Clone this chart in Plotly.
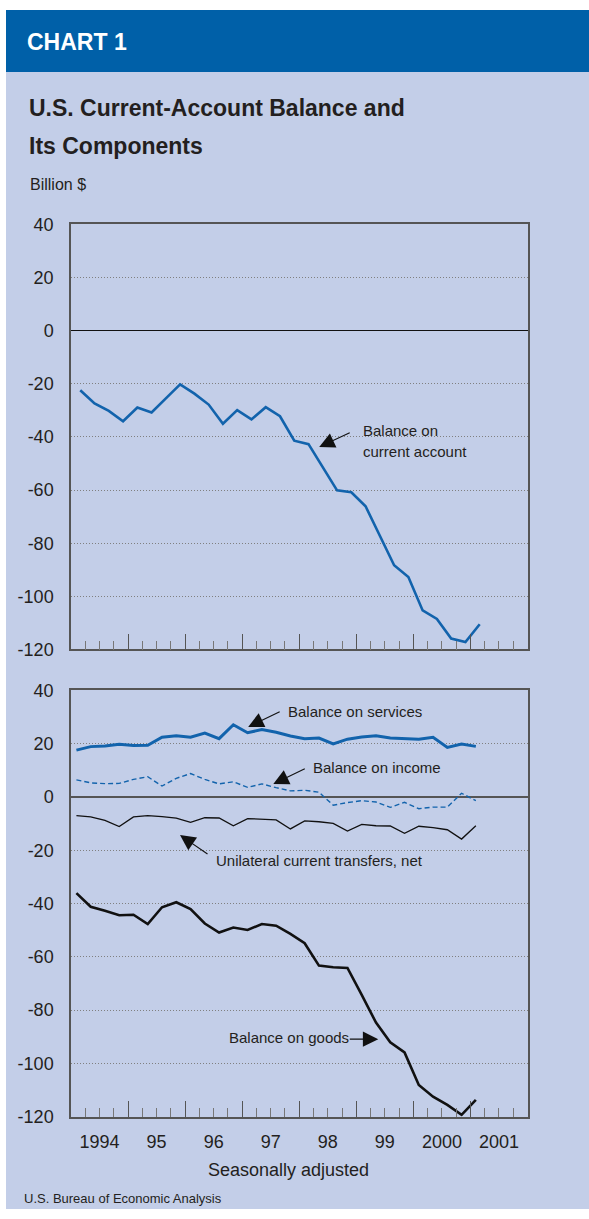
import plotly.graph_objects as go

# ---------------- data ----------------
quarters = ["1994Q1", "1994Q2", "1994Q3", "1994Q4",
            "1995Q1", "1995Q2", "1995Q3", "1995Q4",
            "1996Q1", "1996Q2", "1996Q3", "1996Q4",
            "1997Q1", "1997Q2", "1997Q3", "1997Q4",
            "1998Q1", "1998Q2", "1998Q3", "1998Q4",
            "1999Q1", "1999Q2", "1999Q3", "1999Q4",
            "2000Q1", "2000Q2", "2000Q3", "2000Q4",
            "2001Q1"]

current_account = [-22.4, -27.4, -30.2, -34.1, -28.9, -30.8, -25.5, -20.2,
                   -23.7, -27.8, -35.0, -29.9, -33.4, -28.8, -32.2, -41.4,
                   -42.7, -51.4, -60.1, -60.8, -66.1, -77.2, -88.3, -92.7,
                   -105.3, -108.5, -115.9, -117.2, -110.5]
services = [17.6, 18.9, 19.1, 19.8, 19.3, 19.4, 22.4, 23.0,
            22.4, 24.0, 21.9, 27.1, 24.1, 25.3, 24.3, 22.9,
            21.9, 22.1, 19.9, 21.7, 22.5, 23.0, 22.1, 22.0,
            21.7, 22.4, 18.6, 19.9, 19.0]
income = [6.4, 5.3, 5.0, 5.1, 6.6, 7.6, 4.1, 7.0,
          8.8, 6.6, 4.9, 5.7, 3.6, 4.9, 3.5, 2.3,
          2.5, 1.8, -3.1, -2.1, -1.4, -1.9, -3.9, -2.0,
          -4.4, -3.8, -3.8, 1.4, -1.4]
transfers = [-7.0, -7.5, -8.8, -11.1, -7.5, -7.0, -7.4, -7.9,
             -9.5, -7.8, -7.9, -10.8, -8.1, -8.4, -8.6, -12.0,
             -9.0, -9.3, -9.9, -12.8, -10.3, -10.8, -10.9, -13.6,
             -11.0, -11.5, -12.3, -15.8, -10.8]
goods = [-36.1, -41.2, -42.7, -44.4, -44.2, -47.7, -41.4, -39.5,
         -42.1, -47.5, -50.9, -49.0, -49.9, -47.7, -48.3, -51.4,
         -54.9, -63.3, -63.9, -64.2, -74.3, -84.7, -92.1, -95.9,
         -108.1, -112.5, -115.6, -119.3, -113.7]

year_labels = ["1994", "95", "96", "97", "98", "99", "2000", "2001"]
y_ticks = [40, 20, 0, -20, -40, -60, -80, -100, -120]

# ---------------- styling ----------------
W, H = 589, 1219
BLUE = "#1263AC"
HEADER = "#0060A8"
LAV = "#C3CEE8"
TXT = "#231F20"
FONT = "Liberation Sans, Arial, sans-serif"
V_OFF, V_SC = 10.0, 0.983   # compensation for the vertical placement seen in the capture


def px(x):
    return x / W


def py(y):
    yc = (y - V_OFF) / V_SC
    return min(1.0, max(0.0, 1 - yc / H))


def qpos(label, off):
    yr = int(label[:4])
    q = int(label[5])
    return (yr - 1994) * 4 + (q - 1) + off


x_top = [qpos(q, 0.65) for q in quarters]
x_bot = [qpos(q, 0.38) for q in quarters]

fig = go.Figure()
fig.add_trace(go.Scatter(x=x_top, y=current_account, mode="lines",
                         line=dict(color=BLUE, width=2.6), xaxis="x", yaxis="y"))
fig.add_trace(go.Scatter(x=x_bot, y=services, mode="lines",
                         line=dict(color=BLUE, width=3), xaxis="x2", yaxis="y2"))
fig.add_trace(go.Scatter(x=x_bot, y=income, mode="lines",
                         line=dict(color=BLUE, width=1.4, dash="5px,3px"), xaxis="x2", yaxis="y2"))
fig.add_trace(go.Scatter(x=x_bot, y=transfers, mode="lines",
                         line=dict(color="#111111", width=1.3), xaxis="x2", yaxis="y2"))
fig.add_trace(go.Scatter(x=x_bot, y=goods, mode="lines",
                         line=dict(color="#111111", width=2.6), xaxis="x2", yaxis="y2"))
# carrier trace for the year-label axis
fig.add_trace(go.Scatter(x=[0], y=[None], mode="lines", xaxis="x3", yaxis="y2",
                         hoverinfo="skip"))

major = list(range(4, 32, 4))
xcommon = dict(range=[0, 32], domain=[px(71), px(527.5)], showline=True, mirror=True,
               linecolor="#555555", linewidth=1.5, ticks="inside", tickvals=major,
               ticklen=16, tickwidth=1, tickcolor="#555555", showticklabels=False,
               showgrid=False, zeroline=False, fixedrange=True,
               minor=dict(ticks="inside", tickmode="linear", tick0=0, dtick=1,
                          ticklen=9, tickwidth=1, tickcolor="#777777"))
ycommon = dict(range=[-120, 40], tickvals=y_ticks, ticktext=[str(v) for v in y_ticks],
               showgrid=True, gridcolor="#808080", gridwidth=1, griddash="1px,2px",
               zeroline=True, showline=True, mirror=True, linecolor="#555555",
               linewidth=1.5, ticks="", ticklabelstandoff=12,
               tickfont=dict(family=FONT, size=18, color=TXT), fixedrange=True)

fig.update_layout(
    width=W, height=H, margin=dict(l=0, r=0, t=0, b=0),
    paper_bgcolor="white", plot_bgcolor="white", showlegend=False, hovermode=False,
    font=dict(family=FONT, color=TXT),
    xaxis=dict(xcommon, anchor="y"),
    yaxis=dict(ycommon, anchor="x", domain=[py(649.1), py(224.3)],
               zerolinecolor="#111111", zerolinewidth=1.2),
    xaxis2=dict(xcommon, anchor="y2"),
    yaxis2=dict(ycommon, anchor="x2", domain=[py(1116), py(690)],
                zerolinecolor="#555555", zerolinewidth=1.5),
    xaxis3=dict(overlaying="x2", anchor="y2", range=[0, 32], side="bottom",
                tickvals=[2 + 4 * i for i in range(len(year_labels))], ticktext=year_labels,
                ticks="", showline=False, showgrid=False, zeroline=False,
                ticklabelstandoff=12, tickfont=dict(family=FONT, size=18, color=TXT),
                fixedrange=True),
)

fig.add_shape(type="rect", xref="paper", yref="paper", x0=px(6), x1=1, y0=0, y1=py(72),
              fillcolor=LAV, line_width=0, layer="below")
fig.add_shape(type="rect", xref="paper", yref="paper", x0=px(6), x1=1, y0=py(72), y1=1,
              fillcolor=HEADER, line_width=0, layer="below")


def ptext(text, x, y, size, color=TXT, xanchor="left", bold=False):
    if bold:
        text = "<b>" + text + "</b>"
    fig.add_annotation(text=text, xref="paper", yref="paper", x=px(x), y=py(y),
                       xanchor=xanchor, yanchor="middle", showarrow=False,
                       font=dict(family=FONT, size=size, color=color))


ptext("CHART 1", 25, 41.5, 23, color="white", bold=True)
ptext("U.S. Current-Account Balance and", 27, 107.5, 23, bold=True)
ptext("Its Components", 27, 146, 23, bold=True)
ptext("Billion $", 27.5, 184, 16)
ptext("Seasonally adjusted", 288, 1169, 18, xanchor="center")
ptext("U.S. Bureau of Economic Analysis", 22, 1197.5, 13)


def dtext(text, x, y, xr, yr):
    fig.add_annotation(text=text, xref=xr, yref=yr, x=x, y=y, xanchor="left",
                       yanchor="middle", showarrow=False,
                       font=dict(family=FONT, size=15, color=TXT))


def arrow(x, y, ax, ay, xr, yr):
    fig.add_annotation(text="", xref=xr, yref=yr, x=x, y=y, ax=ax, ay=ay,
                       showarrow=True, arrowhead=2, arrowsize=2.8, arrowwidth=1.1,
                       arrowcolor="#111111")


dtext("Balance on", 20.32, -37.5, "x", "y")
dtext("current account", 20.32, -45.6, "x", "y")
arrow(17.4, -43.8, 32, -15, "x", "y")

dtext("Balance on services", 15.07, 32.1, "x2", "y2")
arrow(12.42, 26.3, 33, -16, "x2", "y2")

dtext("Balance on income", 16.82, 11.1, "x2", "y2")
arrow(14.18, 4.9, 33, -16, "x2", "y2")

dtext("Unilateral current transfers, net", 10.02, -24.0, "x2", "y2")
arrow(7.64, -14.3, 29, 20, "x2", "y2")

dtext("Balance on goods", 10.91, -90.2, "x2", "y2")
arrow(21.54, -90.9, -30, 0, "x2", "y2")

page_css = ("var s=document.documentElement.style;s.margin='0';s.padding='0';s.overflow='hidden';"
            "var b=document.body.style;b.margin='0';b.padding='0';b.overflow='hidden';")
fig.write_html("out.html", post_script=page_css, config={"displayModeBar": False})
